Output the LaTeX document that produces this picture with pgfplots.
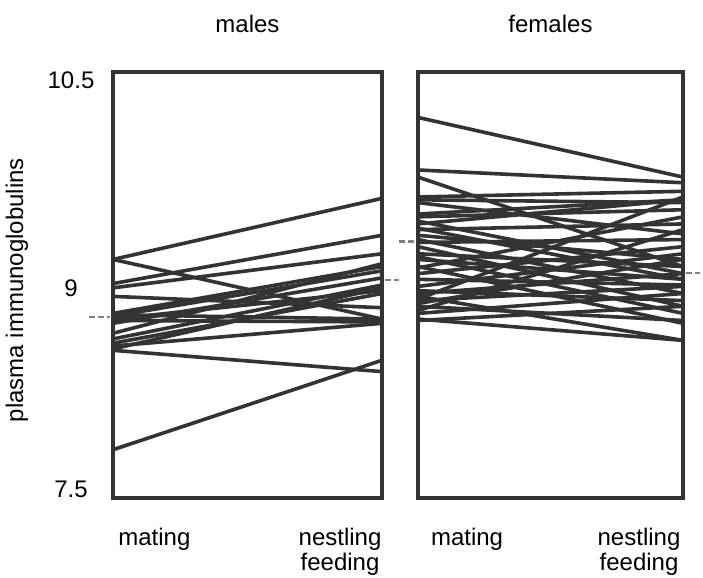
\documentclass[border=0pt]{standalone}
\usepackage{fontspec}
\setmainfont{Liberation Sans}
\usepackage{pgfplots}
\pgfplotsset{compat=1.18}
\definecolor{ink}{HTML}{333333}
\definecolor{meangray}{HTML}{808080}
\begin{document}
\fontsize{12}{13.5}\selectfont
\begin{tikzpicture}
\path[use as bounding box] (-56.5pt,-40pt) rectangle (295pt,249pt);
\pgfplotsset{
  panel/.style={
    scale only axis, height=213pt, ymin=7.5, ymax=10.5, xmin=0, xmax=1,
    clip=false, axis line style={ink, line width=1.6pt},
    major tick length=0pt,
    tick label style={font=\fontsize{12}{13.5}\selectfont},
    /pgf/number format/assume math mode=true,
    xticklabel style={anchor=north, align=center, yshift=-11pt},
    yticklabel style={anchor=center, xshift=-21pt},
    title style={at={(0.5,1)}, anchor=base, yshift=13.5pt, font=\fontsize{12}{13.5}\selectfont},
  },
  pl/.style={ink, line width=1.8pt, mark=none, solid},
  meanmark/.style={meangray, line width=1.2pt, dash pattern=on 3pt off 1.5pt},
}
% ---------------- males ----------------
\begin{axis}[panel, width=134.5pt, title={males},
  xtick={0.154,0.844}, xticklabels={mating, nestling\\[-1pt]feeding},
  ytick={7.56,8.98,10.44}, yticklabels={7.5,9,10.5}]
\addplot[pl] coordinates {(0,9.18) (1,9.61)};
\addplot[pl] coordinates {(0,9.18) (1,8.76)};
\addplot[pl] coordinates {(0,9.01) (1,9.35)};
\addplot[pl] coordinates {(0,8.98) (1,9.22)};
\addplot[pl] coordinates {(0,8.92) (1,8.84)};
\addplot[pl] coordinates {(0,8.80) (1,9.13)};
\addplot[pl] coordinates {(0,8.78) (1,9.10)};
\addplot[pl] coordinates {(0,8.76) (1,8.96)};
\addplot[pl] coordinates {(0,8.75) (1,8.74)};
\addplot[pl] coordinates {(0,8.73) (1,9.05)};
\addplot[pl] coordinates {(0,8.66) (1,9.15)};
\addplot[pl] coordinates {(0,8.59) (1,8.94)};
\addplot[pl] coordinates {(0,8.57) (1,8.73)};
\addplot[pl] coordinates {(0,8.55) (1,8.98)};
\addplot[pl] coordinates {(0,8.54) (1,8.39)};
\addplot[pl] coordinates {(0,7.84) (1,8.47)};
\addplot[pl] coordinates {(0,8.79) (1,8.76)};
\addplot[pl] coordinates {(0,8.62) (1,9.00)};
\addplot[meanmark] coordinates {(-0.09,8.775) (-0.01,8.775)};
\addplot[meanmark] coordinates {(1.01,9.035) (1.065,9.035)};
\end{axis}
% ---------------- females ----------------
\begin{axis}[panel, at={(152.5pt,0pt)}, width=132.5pt, title={females},
  xtick={0.185,0.834}, xticklabels={mating, nestling\\[-1pt]feeding},
  ytick=\empty]
\addplot[pl] coordinates {(0,10.18) (1,9.76)};
\addplot[pl] coordinates {(0,9.81) (1,9.72)};
\addplot[pl] coordinates {(0,9.76) (1,9.13)};
\addplot[pl] coordinates {(0,9.62) (1,9.66)};
\addplot[pl] coordinates {(0,9.60) (1,9.58)};
\addplot[pl] coordinates {(0,9.58) (1,9.36)};
\addplot[pl] coordinates {(0,9.50) (1,9.60)};
\addplot[pl] coordinates {(0,9.48) (1,9.53)};
\addplot[pl] coordinates {(0,9.45) (1,9.08)};
\addplot[pl] coordinates {(0,9.43) (1,9.60)};
\addplot[pl] coordinates {(0,9.39) (1,9.43)};
\addplot[pl] coordinates {(0,9.35) (1,9.18)};
\addplot[pl] coordinates {(0,9.32) (1,8.94)};
\addplot[pl] coordinates {(0,9.30) (1,9.32)};
\addplot[pl] coordinates {(0,9.27) (1,8.85)};
\addplot[pl] coordinates {(0,9.22) (1,9.13)};
\addplot[pl] coordinates {(0,9.20) (1,8.80)};
\addplot[pl] coordinates {(0,9.18) (1,9.04)};
\addplot[pl] coordinates {(0,9.13) (1,8.73)};
\addplot[pl] coordinates {(0,9.08) (1,9.27)};
\addplot[pl] coordinates {(0,9.04) (1,9.00)};
\addplot[pl] coordinates {(0,8.99) (1,9.22)};
\addplot[pl] coordinates {(0,8.96) (1,8.89)};
\addplot[pl] coordinates {(0,8.94) (1,9.08)};
\addplot[pl] coordinates {(0,8.92) (1,8.61)};
\addplot[pl] coordinates {(0,8.89) (1,8.99)};
\addplot[pl] coordinates {(0,8.87) (1,9.18)};
\addplot[pl] coordinates {(0,8.85) (1,8.75)};
\addplot[pl] coordinates {(0,8.82) (1,9.39)};
\addplot[pl] coordinates {(0,8.80) (1,8.94)};
\addplot[pl] coordinates {(0,8.76) (1,8.61)};
\addplot[pl] coordinates {(0,8.75) (1,8.85)};
\addplot[pl] coordinates {(0,9.12) (1,9.48)};
\addplot[pl] coordinates {(0,8.90) (1,9.62)};
\addplot[pl] coordinates {(0,9.40) (1,9.04)};
\addplot[meanmark] coordinates {(-0.07,9.305) (-0.005,9.305)};
\addplot[meanmark] coordinates {(1.01,9.085) (1.065,9.085)};
\end{axis}
\node[rotate=90, anchor=center] at (-48pt,104pt) {plasma immunoglobulins};
\end{tikzpicture}
\end{document}
